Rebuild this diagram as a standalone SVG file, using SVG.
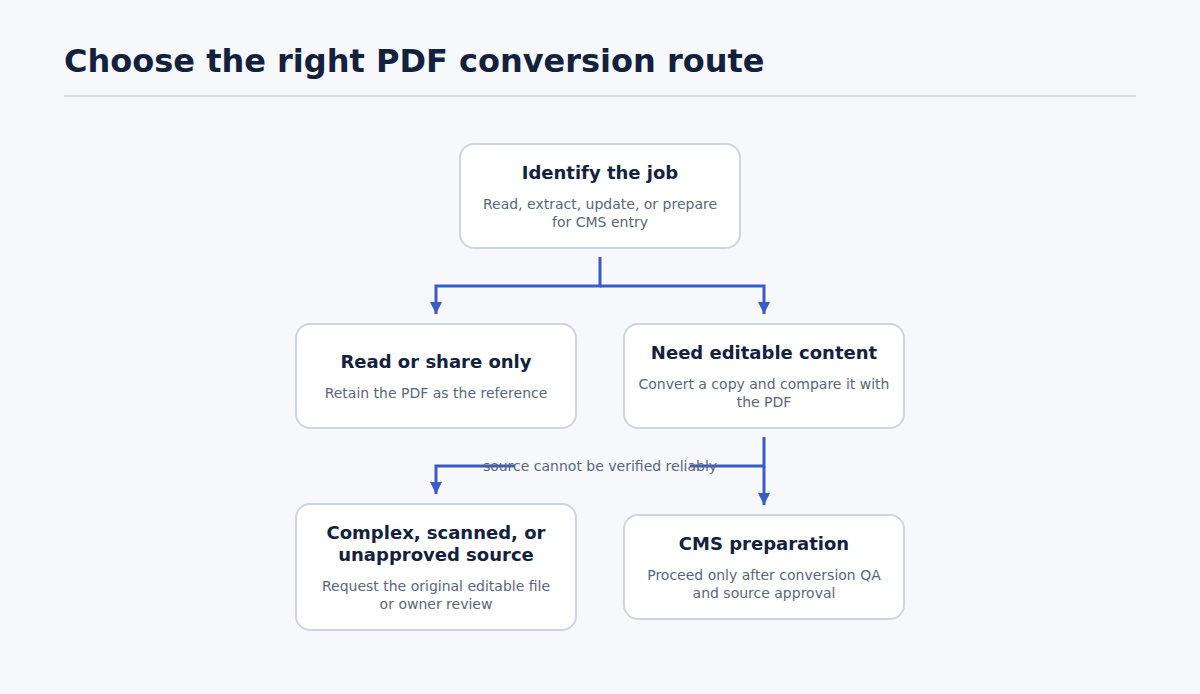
<svg xmlns="http://www.w3.org/2000/svg" width="1200" height="694" viewBox="0 0 1200 694">
<style>
text{font-family:"DejaVu Sans",sans-serif;text-anchor:middle}
.box{fill:#fff;stroke:#cfd5df;stroke-width:2}
.t{font-size:18px;font-weight:bold;fill:#13213d}
.s{font-size:14px;fill:#5b6678}
.c{fill:none;stroke:#3a5cc9;stroke-width:3}
</style>
<defs><marker id="a" viewBox="0 0 10 10" refX="5" refY="9" markerWidth="4.5" markerHeight="4.5" orient="auto" markerUnits="userSpaceOnUse"><path d="M0,0 L10,0 L5,10 Z" fill="#3a5cc9" transform="rotate(-90 5 5)"/></marker>
<marker id="ar" markerUnits="userSpaceOnUse" markerWidth="14" markerHeight="14" refX="7" refY="13" orient="0" viewBox="0 0 14 14"><path d="M1,1 L13,1 L7,13 Z" fill="#3a5cc9"/></marker></defs>
<rect width="1200" height="694" fill="#f6f8fc"/>
<text x="64" y="72" style="text-anchor:start;font-size:32px;font-weight:bold;fill:#13213d">Choose the right PDF conversion route</text>
<rect x="64" y="95" width="1072" height="2" fill="#d6dbe4"/>
<g id="connectors">
<path class="c" d="M600,257 V286 H436 V314" marker-end="url(#ar)"/>
<path class="c" d="M600,286 H764 V314" marker-end="url(#ar)"/>
<path class="c" d="M764,437 V466 H436 V494" marker-end="url(#ar)"/>
<path class="c" d="M764,466 V505" marker-end="url(#ar)"/>
<rect x="515" y="456" width="175" height="20" fill="#f6f8fc"/>
<text class="s" x="600" y="471">source cannot be verified reliably</text>
</g>
<g id="n1"><rect class="box" x="460" y="144" width="280" height="104" rx="14"/><text class="t" x="600" y="179">Identify the job</text><text class="s" x="600" y="209">Read, extract, update, or prepare</text><text class="s" x="600" y="227">for CMS entry</text></g>
<g id="n2"><rect class="box" x="296" y="324" width="280" height="104" rx="14"/><text class="t" x="436" y="368">Read or share only</text><text class="s" x="436" y="398">Retain the PDF as the reference</text></g>
<g id="n3"><rect class="box" x="624" y="324" width="280" height="104" rx="14"/><text class="t" x="764" y="359">Need editable content</text><text class="s" x="764" y="389">Convert a copy and compare it with</text><text class="s" x="764" y="407">the PDF</text></g>
<g id="n4"><rect class="box" x="296" y="504" width="280" height="126" rx="14"/><text class="t" x="436" y="539">Complex, scanned, or</text><text class="t" x="436" y="561">unapproved source</text><text class="s" x="436" y="591">Request the original editable file</text><text class="s" x="436" y="609">or owner review</text></g>
<g id="n5"><rect class="box" x="624" y="515" width="280" height="104" rx="14"/><text class="t" x="764" y="550">CMS preparation</text><text class="s" x="764" y="580">Proceed only after conversion QA</text><text class="s" x="764" y="598">and source approval</text></g>
</svg>
